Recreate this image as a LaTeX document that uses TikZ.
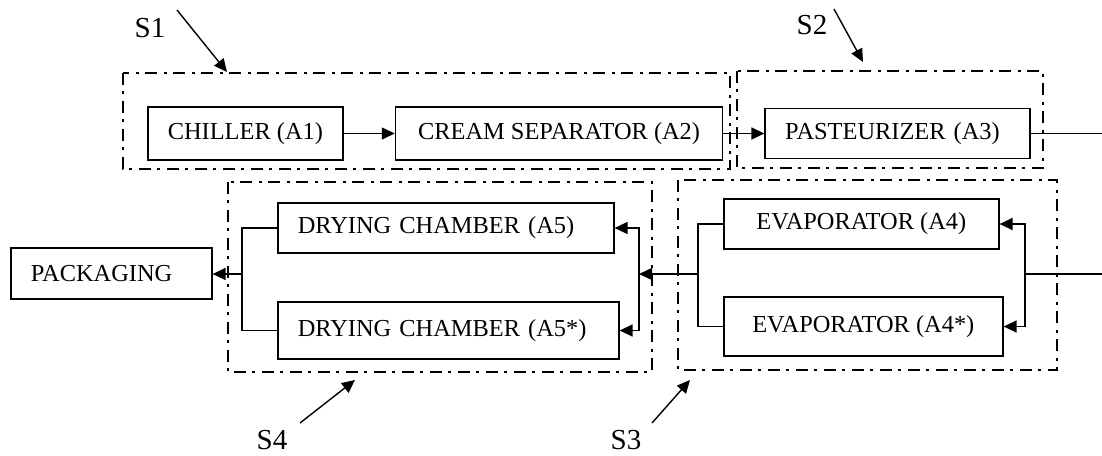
\documentclass[tikz,border=0pt]{standalone}
\usepackage{fontspec}
\setmainfont{Liberation Serif}
\usetikzlibrary{arrows.meta,positioning}

\begin{document}
\begin{tikzpicture}[
  x=0.5pt, y=-0.5pt, >={Triangle[length=6.5pt,width=6pt]},
  font=\fontsize{12.2}{14}\selectfont,
  blk/.style={draw, line width=0.8pt, inner xsep=10pt, inner ysep=0pt,
              anchor=west, minimum height=25pt},
  blkl/.style={blk, align=left},
  grp/.style={line width=0.6pt,
              dash pattern=on 6pt off 3pt on 1.5pt off 3.5pt},
  lbl/.style={font=\fontsize{14.5}{16}\selectfont},
  arr/.style={->, line width=0.7pt},
  ln/.style={line width=0.7pt},
]
  \useasboundingbox (0,0) rectangle (1102,455);

  % process units
  \node[blk, minimum width=97.5pt, minimum height=26.5pt] (chil) at (147,133.5) {CHILLER (A1)};
  \node[blk, minimum width=163.5pt, minimum height=26.5pt, right=25.5pt of chil] (crm) {CREAM SEPARATOR (A2)};
  \node[blkl, text width=112.5pt, right=20.5pt of crm] (past) {PASTEURIZER (A3)};
  \node[blk, minimum width=137.5pt] (evA) at (723,224) {EVAPORATOR (A4)};
  \node[blk, minimum width=139.5pt, minimum height=29.5pt] (evB) at (723,326.5) {EVAPORATOR (A4*)};
  \node[blkl, text width=148pt] (dryA) at (277,228) {DRYING CHAMBER (A5)};
  \node[blkl, text width=150.5pt, minimum height=28.5pt] (dryB) at (277,330.5) {DRYING CHAMBER (A5*)};
  \node[blkl, text width=80.5pt, minimum height=25.5pt] (pack) at (10,273.5) {PACKAGING};

  % sections
  \draw[grp] (123,73) rectangle (730,169);
  \draw[grp] (737,71) rectangle (1043,168);
  \draw[grp] (678,180) rectangle (1057,370);
  \draw[grp] (228,182) rectangle (652,372);

  \node[lbl] (s1) at (150,28) {S1};
  \node[lbl] (s2) at (812,25) {S2};
  \node[lbl] (s3) at (626,440) {S3};
  \node[lbl] (s4) at (272,440) {S4};
  \coordinate (f1) at (177,10);  \coordinate (t1) at (227,72);
  \coordinate (f2) at (834,9);   \coordinate (t2) at (863,62);
  \coordinate (f3) at (652,423); \coordinate (t3) at (690,380);
  \coordinate (f4) at (300,423); \coordinate (t4) at (355,380);
  \draw[arr] (f1) -- (t1);
  \draw[arr] (f2) -- (t2);
  \draw[arr] (f3) -- (t3);
  \draw[arr] (f4) -- (t4);

  % flow
  \coordinate (r1) at (1102,132);
  \coordinate (r2) at (1102,274);
  \coordinate (jr) at (1025,274);
  \coordinate (jl) at (698,274);
  \coordinate (jd) at (639,274);
  \coordinate (jp) at (242,274);

  \draw[arr] (chil.east) -- (chil.east -| crm.west);
  \draw[arr] (crm.east) -- (crm.east -| past.west);
  \draw[ln] (past.east) -- (past.east -| r1);
  \draw[ln] (r2) -- (jr);
  \draw[arr] (jr) |- (evA.east);
  \draw[arr] (jr) |- (evB.east);
  \draw[ln] (evA.west) -| (jl);
  \draw[ln] (evB.west) -| (jl);
  \draw[arr] (jl) -- (jd);
  \draw[arr] (jd) |- (dryA.east);
  \draw[arr] (jd) |- (dryB.east);
  \draw[ln] (dryA.west) -| (jp);
  \draw[ln] (dryB.west) -| (jp);
  \draw[arr] (jp) -- (jp -| pack.east);
\end{tikzpicture}
\end{document}
